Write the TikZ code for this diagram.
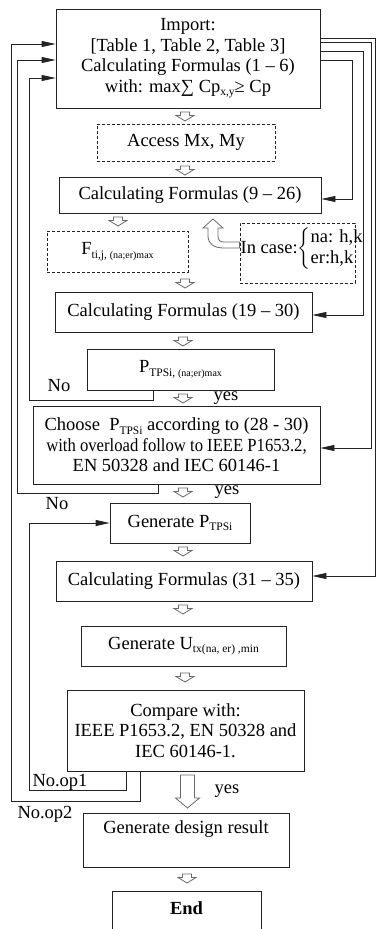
\documentclass[tikz,border=0pt]{standalone}
\usepackage{fontspec}
\setmainfont{Liberation Serif}
\usepackage{amsmath}
\usepackage{graphicx}
\usetikzlibrary{arrows.meta,calc}
\definecolor{lc}{RGB}{35,35,35}
\definecolor{hc}{RGB}{105,105,105}
\newcommand{\sbs}[1]{\raisebox{-0.2em}{\fontsize{11.5}{11.5}\selectfont #1}}
\newcommand{\ssbs}[1]{{\fontsize{10}{10}\selectfont #1}}
\begin{document}
\begin{tikzpicture}[x=1pt,y=-1pt,
  txt/.style={font=\fontsize{18.5}{20.5}\selectfont},
  box/.style={draw=lc, line width=0.8pt, inner sep=0pt, align=center, txt},
  dbox/.style={box, dash pattern=on 3pt off 2pt},
  conn/.style={draw=lc, line width=0.8pt, -{Triangle[length=14pt,width=6pt]}},
  lab/.style={txt, inner sep=0pt, anchor=base},
  hol/.style={draw=hc, fill=white, line width=0.8pt, line join=miter},
  harrow/.pic={\draw[hol] (-4.5,0) -- (4.5,0) -- (4.5,3.5) -- (9,3.5) -- (0,9) -- (-9,3.5) -- (-4.5,3.5) -- cycle;},
  bigarrow/.pic={\draw[hol] (-7,0) -- (7,0) -- (7,23) -- (12,23) -- (0,33) -- (-12,23) -- (-7,23) -- cycle;}]
\clip (0,0) rectangle (376,929);
\fill[white] (0,0) rectangle (376,929);

% boxes
\node[box, minimum width=264pt, minimum height=99pt] (imp) at (188,58.5)
  {Import:\\{[}Table 1, Table 2, Table 3{]}\\Calculating Formulas (1 – 6)\\with: max∑ Cp\sbs{x,y}≥ Cp};
\node[dbox, minimum width=178pt, minimum height=37pt] (acc) at (186,142.5) {Access Mx, My};
\node[box, minimum width=262pt, minimum height=36pt] (c1) at (190,195) {Calculating Formulas (9 – 26)};
\node[dbox, minimum width=141pt, minimum height=41pt] (fb) at (117.5,251.5)
  {F\raisebox{-0.2em}{\fontsize{11.5}{11.5}\selectfont ti,j, \ssbs{(na;er)max}}};
\node[dbox, minimum width=115pt, minimum height=60pt] (inc) at (297.5,253) {};
\node[txt, inner sep=0pt, anchor=west] (inct) at (240.5,249)
  {In case:$\left\{\begin{array}{@{}l@{}}\text{na: h,k}\\\text{er:h,k}\end{array}\right.$};
\node[box, minimum width=257pt, minimum height=40pt] (c2) at (183.5,312) {Calculating Formulas (19 – 30)};
\node[box, minimum width=187pt, minimum height=41pt] (pmax) at (180.5,369.5)
  {P\raisebox{-0.2em}{\fontsize{11.5}{11.5}\selectfont TPSi, \ssbs{(na;er)max}}};
\node[box, minimum width=287pt, minimum height=78pt] (ch) at (176.5,445)
  {Choose\ \ P\sbs{TPSi} according to (28 - 30)\\\scalebox{0.9}[1]{with overload follow to IEEE P1653.2,}\\EN 50328 and IEC 60146-1};
\node[box, minimum width=140pt, minimum height=40pt] (gen) at (180,523) {Generate P\sbs{TPSi}};
\node[box, minimum width=256pt, minimum height=40pt] (c3) at (184,581) {Calculating Formulas (31 – 35)};
\node[box, minimum width=205pt, minimum height=40pt] (genu) at (183.5,646) {Generate U\sbs{tx(na, er) ,min}};
\node[box, minimum width=237pt, minimum height=81pt] (cmp) at (185.5,730.5)
  {Compare with:\\IEEE P1653.2, EN 50328 and\\IEC 60146-1.};
\node[box, minimum width=206pt, minimum height=54pt] (res) at (186,840) {};
\node[txt, inner sep=0pt] (rest) at (186,829) {Generate design result};
\node[box, minimum width=149pt, minimum height=50pt] (end) at (186.5,916) {};
\node[txt, inner sep=0pt, font=\fontsize{18.5}{20.5}\selectfont\bfseries] (endt) at (186.5,908) {End};

% hollow arrows
\pic at (185,112) {harrow};
\pic at (185,166) {harrow};
\pic at (118,217) {harrow};
\pic at (185,279) {harrow};
\pic at (183,337) {harrow};
\pic at (183,394) {harrow};
\pic at (183,488) {harrow};
\pic at (183,547) {harrow};
\pic at (183,605) {harrow};
\pic at (185,673) {harrow};
\pic at (187.5,775) {bigarrow};
\pic at (187,874) {harrow};
% U-turn arrow from the case box
\draw[hol] (inc.west |- 0,248) -- (224,248) .. controls (214,248) and (208,244) .. (208,236)
  -- (208,228) -- (203,228) -- (213,219) -- (223,228) -- (218,228) -- (218,236)
  .. controls (218,240) and (220,242) .. (224,242) -- (inc.west |- 0,242) -- cycle;

% right-hand feeds
\draw[conn] (imp.east |- 0,38) -- (375,38) |- (c3.east |- 0,576);
\draw[conn] (imp.east |- 0,42) -- (371,42) |- (ch.east |- 0,448);
\draw[conn] (imp.east |- 0,51) -- (363,51) |- (c2.east |- 0,315);
\draw[conn] (imp.east |- 0,60) -- (352,60) |- (c1.east |- 0,199);

% left-hand loops
\draw[conn] (pmax.south -| 153,0) |- (29,400) |- (imp.west |- 0,78);
\draw[conn] (ch.south -| 158,0) |- (17,493) |- (imp.west |- 0,60);
\draw[conn] (cmp.south -| 126,0) |- (29,790) |- (gen.west);
\draw[conn] (cmp.south -| 140,0) |- (11,801) |- (imp.west |- 0,44);

% labels
\node[lab] (no1) at (59,391) {No};
\node[lab] (yes1) at (226,400) {yes};
\node[lab] (no2) at (57,509) {No};
\node[lab] (yes2) at (227,494) {yes};
\node[lab] (op1) at (60,786) {No.op1};
\node[lab] (op2) at (45,818) {No.op2};
\node[lab] (yes3) at (227,793) {yes};
\end{tikzpicture}
\end{document}
